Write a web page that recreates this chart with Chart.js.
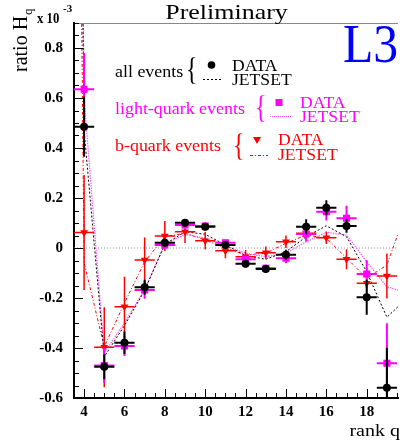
<!DOCTYPE html>
<html>
<head>
<meta charset="utf-8">
<script src="https://cdn.jsdelivr.net/npm/chart.js@4.4.0/dist/chart.umd.min.js"></script>
<style>
body { margin: 0; background: #fff; }
#wrap { width: 403px; height: 445px; }
</style>
</head>
<body>
<div id="wrap"><canvas id="hq" width="403" height="445"></canvas></div>
<script>
// rank q and measured ratios (x 10^-3)
const ranks = [4, 5, 6, 7, 8, 9, 10, 11, 12, 13, 14, 15, 16, 17, 18, 19];
const allData = [0.485, -0.475, -0.379, -0.157, 0.021, 0.101, 0.085, 0.012, -0.063, -0.084, -0.027, 0.085, 0.161, 0.088, -0.197, -0.559];
const allErr = [0.12, 0.05, 0.045, 0.03, 0.015, 0.015, 0.015, 0.012, 0.015, 0.015, 0.02, 0.03, 0.03, 0.027, 0.07, 0.16];
const lightData = [0.635, -0.47, -0.392, -0.168, 0.012, 0.092, 0.088, 0.021, -0.045, -0.081, -0.041, 0.056, 0.145, 0.119, -0.104, -0.461];
const lightErr = [0.145, 0.07, 0.04, 0.035, 0.015, 0.015, 0.015, 0.012, 0.015, 0.015, 0.02, 0.03, 0.035, 0.05, 0.055, 0.16];
const bData = [0.062, -0.397, -0.235, -0.048, 0.048, 0.065, 0.029, -0.011, -0.035, -0.019, 0.025, 0.059, 0.041, -0.045, -0.141, -0.112];
const bErr = [0.23, 0.16, 0.12, 0.09, 0.06, 0.045, 0.035, 0.03, 0.027, 0.025, 0.025, 0.03, 0.025, 0.04, 0.06, 0.09];

// JETSET curves (run off the plot at both ends)
const jetRanks = [3, 4, 5, 6, 7, 8, 9, 10, 11, 12, 13, 14, 15, 16, 17, 18, 19, 20];
const allJetset = [8, 0.47, -0.435, -0.31, -0.17, 0.015, 0.065, 0.055, 0.012, -0.03, -0.045, -0.015, 0.045, 0.089, 0.045, -0.095, -0.277, -0.2];
const lightJetset = [8, 0.6, -0.42, -0.3, -0.165, 0.015, 0.055, 0.039, 0.01, -0.021, -0.035, -0.021, 0.025, 0.063, 0.052, -0.055, -0.155, -0.18];
const bJetset = [8, -0.06, -0.395, -0.22, -0.055, 0.045, 0.059, 0.032, 0, -0.028, -0.021, 0.019, 0.052, 0.039, -0.04, -0.121, -0.068, 0.158];

const xRange = [3.5, 19.55];
const yRange = [-0.6, 0.9];
const xTicks = [4, 6, 8, 10, 12, 14, 16, 18];
const yTicks = [-0.6, -0.4, -0.2, 0, 0.2, 0.4, 0.6, 0.8];
const zeroLine = [0, 0];

const pts = (xs, ys) => xs.map((q, i) => ({x: q, y: ys[i]}));

function txt(ctx, s, x, y, font, color, sx, align) {
  ctx.save();
  ctx.translate(x, y);
  ctx.scale(sx || 1, 1);
  ctx.font = font;
  ctx.fillStyle = color;
  ctx.textAlign = align || 'left';
  ctx.textBaseline = 'alphabetic';
  ctx.fillText(s, 0, 0);
  ctx.restore();
}

const serif = '"Liberation Serif", "DejaVu Serif", serif';

// error bars, drawn just before the markers of their own dataset
const errorBars = {
  id: 'errorBars',
  beforeDatasetDraw(chart, args) {
    const ds = chart.data.datasets[args.index];
    if (!ds.errY) return;
    const {ctx, chartArea: a, scales: {x, y}} = chart;
    ctx.save();
    ctx.beginPath();
    ctx.rect(a.left, a.top, a.right - a.left, a.bottom - a.top);
    ctx.clip();
    ctx.strokeStyle = ds.barColor;
    ctx.lineWidth = ds.barWidth;
    ctx.beginPath();
    ds.data.forEach((p, i) => {
      const px = x.getPixelForValue(p.x);
      const py = y.getPixelForValue(p.y);
      ctx.moveTo(x.getPixelForValue(p.x - 0.5), py);
      ctx.lineTo(x.getPixelForValue(p.x + 0.5), py);
      ctx.moveTo(px, y.getPixelForValue(p.y + ds.errY[i]));
      ctx.lineTo(px, y.getPixelForValue(p.y - ds.errY[i]));
    });
    ctx.stroke();
    ctx.restore();
  }
};

// frame, inside ticks, titles and legend
const decor = {
  id: 'decor',
  afterDraw(chart) {
    const {ctx, chartArea: a, scales: {x, y}} = chart;
    ctx.save();
    ctx.strokeStyle = '#888';
    ctx.lineWidth = 1;
    ctx.beginPath();
    ctx.moveTo(a.left, a.top + 0.5);
    ctx.lineTo(a.right, a.top + 0.5);
    ctx.stroke();

    ctx.strokeStyle = '#000';
    ctx.beginPath();
    for (let i = -12; i <= 18; i++) {
      const py = Math.round(y.getPixelForValue(i * 0.05)) + 0.5;
      const len = i % 4 === 0 ? 9 : 5;
      ctx.moveTo(a.left, py);
      ctx.lineTo(a.left + len, py);
    }
    for (let i = 8; i <= 39; i++) {
      const px = Math.round(x.getPixelForValue(i * 0.5)) + 0.5;
      const len = (i % 4 === 0) ? 9 : 5;
      ctx.moveTo(px, a.bottom);
      ctx.lineTo(px, a.bottom - len);
    }
    ctx.stroke();
    ctx.restore();

    // titles
    txt(ctx, 'Preliminary', 226.5, 19, '22px ' + serif, '#000', 1.18, 'center');
    txt(ctx, 'L3', 343, 62, '54px ' + serif, '#0000ff', 0.92);
    txt(ctx, 'rank q', 400, 436, '16px ' + serif, '#000', 1.25, 'right');
    txt(ctx, 'x 10', 37, 23, 'bold 15px ' + serif, '#000', 0.85);
    txt(ctx, '-3', 63, 12, 'bold 11px ' + serif, '#000', 1);
    ctx.save();
    ctx.translate(27, 72);
    ctx.rotate(-Math.PI / 2);
    ctx.font = '20px ' + serif;
    ctx.fillStyle = '#000';
    ctx.fillText('ratio H', 0, 0);
    ctx.font = '13px ' + serif;
    ctx.fillText('q', 57, 5);
    ctx.restore();

    // legend
    const f = '16px ' + serif;
    const br = '32px ' + serif;
    txt(ctx, 'all events', 115, 77, f, '#000', 1.12);
    txt(ctx, '{', 186, 80, br, '#000', 0.75);
    txt(ctx, 'DATA', 232, 70.5, f, '#000', 1.1);
    txt(ctx, 'JETSET', 232, 84.5, f, '#000', 1.1);
    txt(ctx, 'light-quark events', 115, 114, f, '#ff00ff', 1.12);
    txt(ctx, '{', 255, 118, br, '#ff00ff', 0.75);
    txt(ctx, 'DATA', 300, 108, f, '#ff00ff', 1.1);
    txt(ctx, 'JETSET', 300, 122, f, '#ff00ff', 1.1);
    txt(ctx, 'b-quark events', 115, 151, f, '#ff0000', 1.12);
    txt(ctx, '{', 233, 156, br, '#ff0000', 0.75);
    txt(ctx, 'DATA', 278, 145, f, '#ff0000', 1.1);
    txt(ctx, 'JETSET', 278, 159.5, f, '#ff0000', 1.1);

    ctx.save();
    ctx.fillStyle = '#000';
    ctx.beginPath();
    ctx.arc(211.5, 65, 3.8, 0, Math.PI * 2);
    ctx.fill();
    ctx.fillStyle = '#ff00ff';
    ctx.fillRect(275.5, 99, 7, 7);
    ctx.fillStyle = '#ff0000';
    ctx.beginPath();
    ctx.moveTo(253, 137);
    ctx.lineTo(261, 137);
    ctx.lineTo(257, 144);
    ctx.closePath();
    ctx.fill();
    ctx.lineWidth = 1;
    ctx.setLineDash([2, 2]);
    ctx.strokeStyle = '#000';
    ctx.beginPath(); ctx.moveTo(203, 79.5); ctx.lineTo(223, 79.5); ctx.stroke();
    ctx.setLineDash([1, 1]);
    ctx.strokeStyle = '#ff55ff';
    ctx.beginPath(); ctx.moveTo(270, 116.5); ctx.lineTo(291, 116.5); ctx.stroke();
    ctx.setLineDash([3, 2, 1, 2]);
    ctx.strokeStyle = '#ff0000';
    ctx.beginPath(); ctx.moveTo(250, 155.5); ctx.lineTo(268, 155.5); ctx.stroke();
    ctx.restore();
  }
};

const ctx = document.getElementById('hq').getContext('2d');
const chart = new Chart(ctx, {
  type: 'scatter',
  data: {
    datasets: [
      {
        label: 'all DATA', data: pts(ranks, allData), errY: allErr, barColor: '#000', barWidth: 2,
        pointStyle: 'circle', pointRadius: 4, backgroundColor: '#000', borderColor: '#000', borderWidth: 0, order: 0
      },
      {
        label: 'light DATA', data: pts(ranks, lightData), errY: lightErr, barColor: '#ff00ff', barWidth: 2,
        pointStyle: 'rect', pointRadius: 5, backgroundColor: '#ff00ff', borderColor: '#ff00ff', borderWidth: 0, order: 1
      },
      {
        label: 'b DATA', data: pts(ranks, bData), errY: bErr, barColor: '#ff0000', barWidth: 1.5,
        pointStyle: 'triangle', pointRotation: 180, pointRadius: 4.5, backgroundColor: '#ff0000', borderColor: '#ff0000', borderWidth: 0, order: 2
      },
      {
        label: 'all JETSET', data: pts(jetRanks, allJetset), showLine: true, pointRadius: 0,
        borderColor: '#000', borderWidth: 1, borderDash: [2, 2], order: 3
      },
      {
        label: 'light JETSET', data: pts(jetRanks, lightJetset), showLine: true, pointRadius: 0,
        borderColor: '#ff55ff', borderWidth: 1.2, borderDash: [1.5, 1], order: 4
      },
      {
        label: 'b JETSET', data: pts(jetRanks, bJetset), showLine: true, pointRadius: 0,
        borderColor: '#ff0000', borderWidth: 1, borderDash: [3, 2, 1, 2], order: 5
      },
      {
        label: 'zero', data: pts(xRange, zeroLine), showLine: true, pointRadius: 0,
        borderColor: '#999', borderWidth: 1, borderDash: [1, 2], order: 6
      }
    ]
  },
  options: {
    responsive: false,
    animation: false,
    layout: {padding: {top: 23, right: 0, left: 0, bottom: 0}},
    plugins: {legend: {display: false}, tooltip: {enabled: false}},
    scales: {
      x: {
        type: 'linear', min: xRange[0], max: xRange[1],
        afterFit: s => { s.height = 47; },
        afterBuildTicks: s => { s.ticks = xTicks.map(v => ({value: v})); },
        grid: {display: false, drawTicks: false},
        border: {display: true, color: '#000', width: 2},
        ticks: {padding: 5, color: '#000', font: {family: serif, size: 15, weight: 'bold'}, maxRotation: 0}
      },
      y: {
        type: 'linear', min: yRange[0], max: yRange[1],
        afterFit: s => { s.width = 74; },
        afterBuildTicks: s => { s.ticks = yTicks.map(v => ({value: v})); },
        grid: {display: false, drawTicks: false},
        border: {display: true, color: '#000', width: 2},
        ticks: {
          padding: 11, color: '#000', font: {family: serif, size: 15, weight: 'bold'},
          callback: v => (Math.abs(v) < 1e-9 ? '0' : v.toFixed(1))
        }
      }
    }
  },
  plugins: [errorBars, decor]
});
</script>
</body>
</html>
